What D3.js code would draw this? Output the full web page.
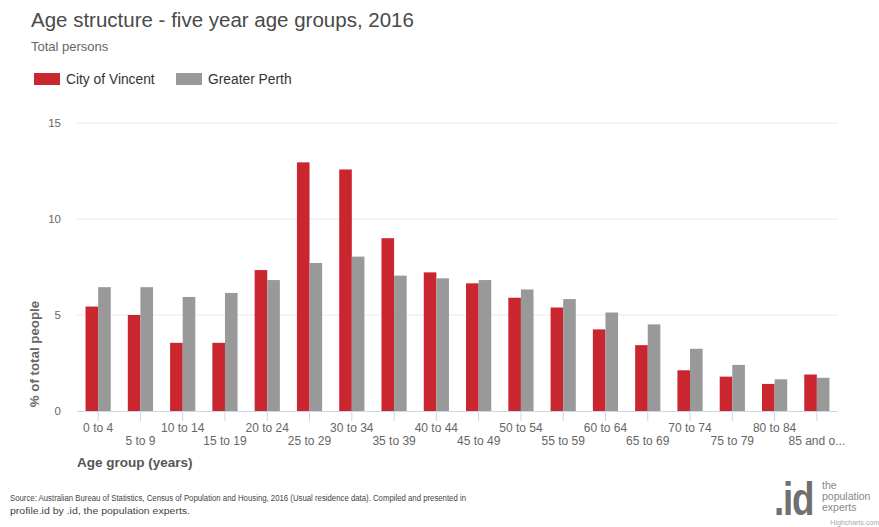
<!DOCTYPE html>
<html><head><meta charset="utf-8">
<script src="https://cdn.jsdelivr.net/npm/d3@7"></script>
<style>
body{margin:0;background:#fff;}
svg{font-family:"Liberation Sans",Arial,sans-serif;}
</style></head>
<body>
<svg id="chart" width="879" height="527"></svg>
<script>
const categories = ["0 to 4","5 to 9","10 to 14","15 to 19","20 to 24","25 to 29","30 to 34","35 to 39","40 to 44","45 to 49","50 to 54","55 to 59","60 to 64","65 to 69","70 to 74","75 to 79","80 to 84","85 and o..."];
const vincent = [5.44,5.0,3.55,3.55,7.34,12.95,12.58,9.0,7.22,6.65,5.9,5.39,4.25,3.43,2.12,1.79,1.41,1.9];
const perth = [6.45,6.45,5.94,6.15,6.82,7.71,8.04,7.05,6.91,6.82,6.33,5.83,5.13,4.51,3.24,2.4,1.65,1.73];
const yTicks = [0,5,10,15];
const seriesNames = ["City of Vincent","Greater Perth"];
const colors = ["#c9262f","#999999"];

(function(){
const svg = d3.select("#chart");
const pLeft = 77, pRight = 838, pTop = 123, pBottom = 411;

svg.append("text").attr("x",31).attr("y",27).attr("font-size",20.5).attr("fill","#4a4a4a").text("Age structure - five year age groups, 2016");
svg.append("text").attr("x",31).attr("y",51).attr("font-size",13).attr("fill","#666").text("Total persons");

// legend
const lx = [34,176];
seriesNames.forEach((n,i)=>{
  svg.append("rect").attr("x",lx[i]).attr("y",73).attr("width",26).attr("height",12).attr("fill",colors[i]);
  svg.append("text").attr("x",lx[i]+32).attr("y",84).attr("font-size",13.8).attr("fill","#333").text(n);
});

const x = d3.scaleBand().domain(categories).range([pLeft,pRight]);
const y = d3.scaleLinear().domain([0,15]).range([pBottom,pTop]);

// grid
svg.append("g").selectAll("line").data(yTicks.filter(d=>d>0)).join("line")
  .attr("x1",pLeft).attr("x2",pRight).attr("y1",d=>y(d)).attr("y2",d=>y(d))
  .attr("stroke","#ebebeb").attr("stroke-width",1);

// y axis labels
const yAxis = d3.axisLeft(y).tickValues(yTicks).tickSize(0).tickPadding(0);
const yg = svg.append("g").attr("transform",`translate(61,0)`).call(yAxis);
yg.select(".domain").remove();
yg.selectAll("text").attr("font-size",11.5).attr("fill","#666").attr("font-family","Liberation Sans, Arial, sans-serif");

svg.append("text").attr("transform","translate(39,354) rotate(-90)").attr("text-anchor","middle")
  .attr("font-size",13.3).attr("font-weight","bold").attr("fill","#666").text("% of total people");

// bars
const bw = 12.6;
const data = categories.map((c,i)=>({c, v:[vincent[i],perth[i]]}));
const groups = svg.append("g").selectAll("g").data(data).join("g");
groups.each(function(d){
  const cx = x(d.c)+x.bandwidth()/2;
  d3.select(this).selectAll("rect").data(d.v).join("rect")
    .attr("x",(v,j)=>cx - bw + j*bw)
    .attr("y",v=>y(v)).attr("width",bw).attr("height",v=>y(0)-y(v))
    .attr("fill",(v,j)=>colors[j]);
});

// x axis
const xAxis = d3.axisBottom(x).tickSize(10).tickPadding(4);
const xg = svg.append("g").attr("transform",`translate(0,${pBottom})`).call(xAxis);
xg.select(".domain").attr("stroke","#ccd6eb").attr("d",`M${pLeft},0.5H${pRight}`);
xg.selectAll(".tick line").attr("stroke","#ccd6eb");
xg.selectAll("text").attr("font-size",12).attr("fill","#666").attr("font-family","Liberation Sans, Arial, sans-serif")
  .attr("dy",(d,i)=> i%2===0 ? "0.71em" : "1.85em")
  .attr("y",12);

svg.append("text").attr("x",77).attr("y",467).attr("font-size",13.5).attr("font-weight","bold").attr("fill","#555").text("Age group (years)");

// source
svg.append("text").attr("x",10).attr("y",501).attr("font-size",8.5).attr("fill","#444")
  .attr("textLength",456).attr("lengthAdjust","spacingAndGlyphs")
  .text("Source: Australian Bureau of Statistics, Census of Population and Housing, 2016 (Usual residence data). Compiled and presented in");
svg.append("text").attr("x",10).attr("y",514).attr("font-size",8.5).attr("fill","#444")
  .attr("textLength",180).attr("lengthAdjust","spacingAndGlyphs")
  .text("profile.id by .id, the population experts.");

// logo
svg.append("g").attr("transform","translate(774,515) scale(0.8,1)")
  .append("text").attr("font-size",46).attr("font-weight","bold").attr("fill","#707070")
  .attr("letter-spacing",-1.5).text(".id");
const small = svg.append("g").attr("transform","translate(822,0) scale(1.0,1)");
[["the",489],["population",500],["experts",511]].forEach(([t,yy])=>{
  small.append("text").attr("x",0).attr("y",yy).attr("font-size",10.5).attr("fill","#888").text(t);
});
svg.append("text").attr("x",879).attr("y",525).attr("text-anchor","end").attr("font-size",7).attr("fill","#aaa").text("Highcharts.com");
})();
</script>
</body></html>
